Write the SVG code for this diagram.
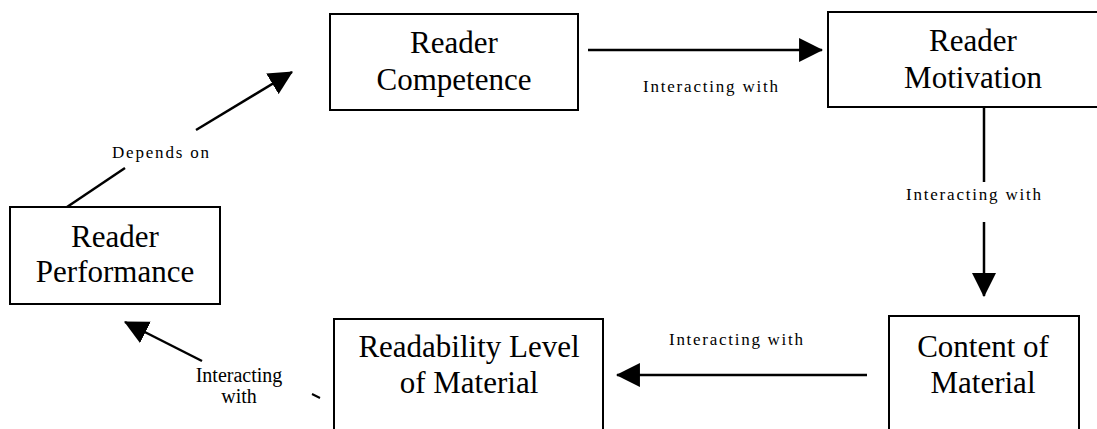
<svg xmlns="http://www.w3.org/2000/svg" width="1097" height="429" viewBox="0 0 1097 429">
<style>
.box{fill:#fff;stroke:#000;stroke-width:2}
.nt{font-family:"Liberation Serif","Times New Roman",serif;font-size:31px;fill:#000;text-anchor:middle}
.lb{font-family:"Liberation Serif","Times New Roman",serif;font-size:17px;fill:#000}
.lb2{font-family:"Liberation Serif","Times New Roman",serif;font-size:20px;fill:#000;text-anchor:middle}
.ln{stroke:#000;stroke-width:2.5;fill:none}
</style>
<defs>
<marker id="ah" markerUnits="userSpaceOnUse" markerWidth="24" markerHeight="24" viewBox="0 0 22 22" refX="21" refY="11" orient="auto">
<path d="M0,0 L22,11 L0,22 Z" fill="#000"/>
</marker>
</defs>
<rect width="1097" height="429" fill="#fff"/>
<g id="competence">
<rect class="box" x="330" y="14" width="248" height="96"/>
<text class="nt" x="454" y="53">Reader</text>
<text class="nt" x="454" y="90">Competence</text>
</g>
<g id="motivation">
<rect class="box" x="828" y="12" width="280" height="95"/>
<text class="nt" x="973" y="51">Reader</text>
<text class="nt" x="973" y="88">Motivation</text>
</g>
<g id="content">
<rect class="box" x="889" y="316" width="190" height="130"/>
<text class="nt" x="983" y="357">Content of</text>
<text class="nt" x="983" y="393">Material</text>
</g>
<g id="readability">
<rect class="box" x="334" y="319" width="269" height="130"/>
<text class="nt" x="469" y="357">Readability Level</text>
<text class="nt" x="469" y="393">of Material</text>
</g>
<g id="performance">
<rect class="box" x="10" y="207" width="210" height="97"/>
<text class="nt" x="115" y="247">Reader</text>
<text class="nt" x="115" y="282">Performance</text>
</g>
<g id="connectors">
<line class="ln" x1="588" y1="50" x2="822" y2="50" marker-end="url(#ah)"/>
<text class="lb" x="643" y="92" textLength="135" lengthAdjust="spacing">Interacting with</text>
<line class="ln" x1="984" y1="106" x2="984" y2="182"/>
<line class="ln" x1="984" y1="222" x2="984" y2="296" marker-end="url(#ah)"/>
<text class="lb" x="906" y="200" textLength="135" lengthAdjust="spacing">Interacting with</text>
<line class="ln" x1="867" y1="375" x2="617" y2="375" marker-end="url(#ah)"/>
<text class="lb" x="669" y="345" textLength="134" lengthAdjust="spacing">Interacting with</text>
<line class="ln" x1="202" y1="361" x2="125" y2="322" marker-end="url(#ah)"/>
<text class="lb2" x="239" y="382">Interacting</text>
<text class="lb2" x="239" y="403">with</text>
<line x1="312" y1="394" x2="320" y2="398" stroke="#000" stroke-width="2"/>
<line class="ln" x1="67" y1="207" x2="125" y2="168"/>
<line class="ln" x1="196" y1="130" x2="292" y2="72" marker-end="url(#ah)"/>
<text class="lb" x="112" y="158" textLength="97" lengthAdjust="spacing">Depends on</text>
</g>
</svg>
